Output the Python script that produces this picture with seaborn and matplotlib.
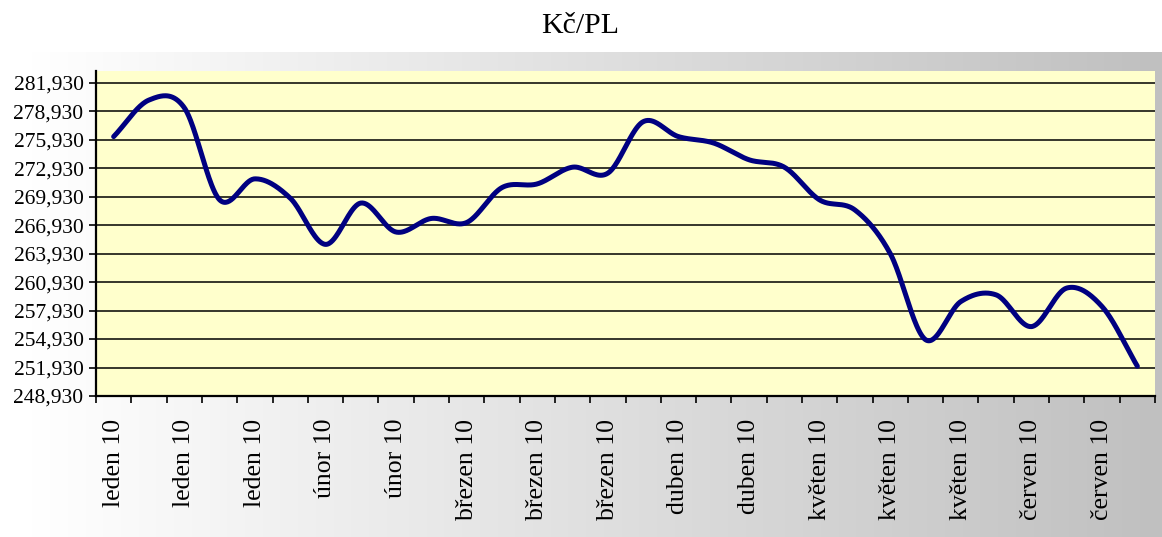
import numpy as np
import pandas as pd
import matplotlib
matplotlib.use("Agg")
import matplotlib.pyplot as plt
import seaborn as sns

# ---------------------------------------------------------------------------
# DATA
# ---------------------------------------------------------------------------
values = [
    276250, 280100, 279300, 269600, 271800, 269780, 264900, 269250, 266200, 267630,
    267200, 270880, 271270, 273030, 272400, 277820, 276250, 275570, 273810, 273030,
    269580, 268520, 263930, 254860, 258880, 259580, 256240, 260300, 258350, 252070,
]
tick_labels = [
    "leden 10", "leden 10", "leden 10", "únor 10", "únor 10",
    "březen 10", "březen 10", "březen 10", "duben 10", "duben 10",
    "květen 10", "květen 10", "květen 10", "červen 10", "červen 10",
]
y_ticks = list(range(248930, 281931, 3000))
title = "Kč/PL"


def smooth_curve(y, steps=40):
    """Catmull-Rom style smoothing like Excel's 'smoothed line' option."""
    y = np.asarray(y, dtype=float)
    n = len(y)
    m = np.zeros(n)
    m[1:-1] = (y[2:] - y[:-2]) / 2
    m[0] = y[1] - y[0]
    m[-1] = y[-1] - y[-2]
    xs, ys = [], []
    t = np.linspace(0, 1, steps, endpoint=False)
    for i in range(n - 1):
        h00 = 2 * t**3 - 3 * t**2 + 1
        h10 = t**3 - 2 * t**2 + t
        h01 = -2 * t**3 + 3 * t**2
        h11 = t**3 - t**2
        xs.append(i + t)
        ys.append(h00 * y[i] + h10 * m[i] + h01 * y[i + 1] + h11 * m[i + 1])
    xs.append(np.array([n - 1]))
    ys.append(np.array([y[-1]]))
    return np.concatenate(xs), np.concatenate(ys)


sns.set_theme(style="white")
plt.rcParams["font.family"] = ["Liberation Serif", "DejaVu Serif"]
plt.rcParams["text.color"] = "black"
plt.rcParams["xtick.color"] = "black"
plt.rcParams["ytick.color"] = "black"

W, H = 1162, 537
fig = plt.figure(figsize=(W / 100, H / 100), dpi=100)
fig.patch.set_facecolor("white")

# grey gradient behind the chart
bg = fig.add_axes([28 / W, 0, 1 - 28 / W, (H - 52) / H])
grad = np.linspace(0, 1, 256).reshape(1, -1)
cmap = matplotlib.colors.LinearSegmentedColormap.from_list("g", ["#FFFFFF", "#C0C0C0"])
bg.imshow(grad, aspect="auto", cmap=cmap, extent=[0, 1, 0, 1])
bg.set_axis_off()

ax = fig.add_axes([96 / W, (H - 396) / H, (1155 - 96) / W, (396 - 71) / H])
ax.set_facecolor("#FFFFCC")

sx, sy = smooth_curve(values)
curve = pd.DataFrame({"x": sx, "y": sy})
sns.lineplot(data=curve, x="x", y="y", ax=ax, color="#000080", linewidth=3.6,
             sort=False, zorder=3)

ax.set_xlim(-0.5, len(values) - 0.5)
ax.set_ylim(248930, 283160)

# gridlines
for yv in y_ticks[1:]:
    ax.axhline(yv, color="black", linewidth=1.1, zorder=1)

ax.set_yticks(y_ticks)
ax.set_yticklabels([f"{v:,}" for v in y_ticks], fontsize=15.5)
ax.tick_params(axis="y", direction="out", length=5, width=1.2, color="black",
               left=True, pad=4, labelcolor="black")

# category boundaries as major ticks, labels on every other category
ax.set_xticks(np.arange(-0.5, len(values), 1.0))
ax.set_xticklabels([])
ax.tick_params(axis="x", which="major", direction="out", length=5, width=1.2,
               color="black", bottom=True)
ax.set_xticks(np.arange(0, len(values), 2), minor=True)
ax.set_xticklabels(tick_labels, minor=True, rotation=90, fontsize=18.5)
ax.tick_params(axis="x", which="minor", length=0, pad=16.5, bottom=True,
               labelcolor="black")

ax.set_xlabel("")
ax.set_ylabel("")
for side in ["top", "right"]:
    ax.spines[side].set_visible(False)
for side in ["left", "bottom"]:
    ax.spines[side].set_color("black")
    ax.spines[side].set_linewidth(1.6)

fig.text(580 / W, 1 - 33 / H, title, ha="center", va="baseline", fontsize=21.5,
         color="black")

fig.savefig("out.png", dpi=100)
